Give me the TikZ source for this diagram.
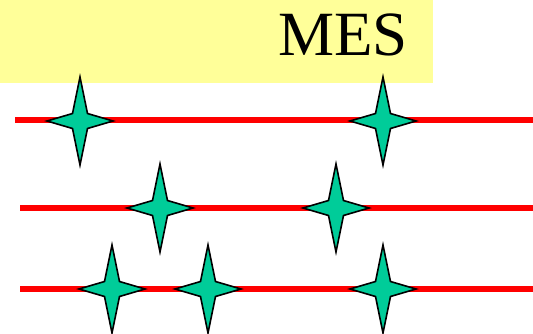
\documentclass[tikz,border=0pt]{standalone}
\usepackage{fontspec}
\setmainfont{Liberation Serif}
\definecolor{yel}{RGB}{255,255,153}
\definecolor{stargreen}{RGB}{0,204,153}
\tikzset{
  redline/.style={draw=red, line width=5.5pt},
  fourstar/.pic={\draw[fill=stargreen, draw=black, line width=1.6pt, line join=miter]
     (0,-44) -- (7.5,-7.5) -- (33,0) -- (7.5,7.5) -- (0,44) -- (-7.5,7.5) -- (-33,0) -- (-7.5,-7.5) -- cycle;}
}
\begin{document}
\begin{tikzpicture}[x=1pt,y=-1pt]
\useasboundingbox (0,0) rectangle (533,333);
\fill[yel] (0,0) rectangle (433,83);
\node[anchor=base, inner sep=0pt, font=\fontsize{63}{70}\selectfont] (mes) at (343,55) {MES};
\draw[redline] (15,120) coordinate (l1a) -- (533,120) coordinate (l1b);
\draw[redline] (20,208) coordinate (l2a) -- (533,208) coordinate (l2b);
\draw[redline] (20,289) coordinate (l3a) -- (533,289) coordinate (l3b);
\pic at (80,121) {fourstar};
\pic at (383,121) {fourstar};
\pic at (160,208) {fourstar};
\pic at (336,208) {fourstar};
\pic at (112,289) {fourstar};
\pic at (208,289) {fourstar};
\pic at (383,289) {fourstar};
\end{tikzpicture}
\end{document}
